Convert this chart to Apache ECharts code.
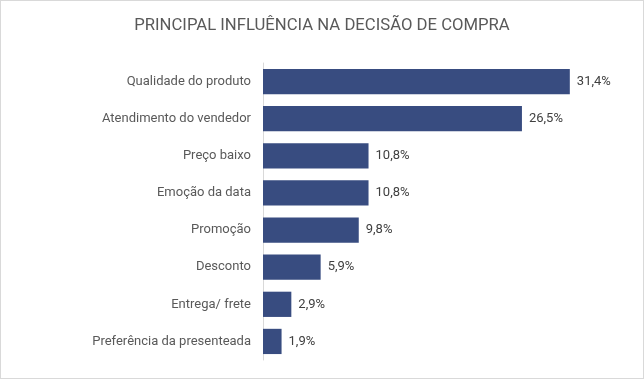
<!DOCTYPE html>
<html><head><meta charset="utf-8">
<script src="https://cdn.jsdelivr.net/npm/echarts@6/dist/echarts.min.js"></script>
<style>html,body{margin:0;padding:0;background:#fff}#c{width:644px;height:379px;box-sizing:border-box;border:1px solid #d9d9d9}</style>
</head><body><div id="c"></div>
<script>
var categories = ["Qualidade do produto","Atendimento do vendedor","Preço baixo","Emoção da data","Promoção","Desconto","Entrega/ frete","Preferência da presenteada"];
var values = [31.4, 26.5, 10.8, 10.8, 9.8, 5.9, 2.9, 1.9];
var title = "PRINCIPAL INFLUÊNCIA NA DECISÃO DE COMPRA";
var chart = echarts.init(document.getElementById('c'));
chart.setOption({
  animation:false,
  title:{text:title,left:'center',top:11,textStyle:{fontFamily:'Roboto',fontWeight:'normal',fontSize:16.7,color:'#595959'}},
  grid:{left:262,right:38,top:62,bottom:18,containLabel:false},
  xAxis:{type:'value',min:0,max:35,show:false},
  yAxis:{type:'category',data:categories,inverse:true,
    axisLine:{show:true,lineStyle:{color:'#d9d9d9'}},axisTick:{show:false},
    axisLabel:{fontFamily:'Roboto',fontSize:13,color:'#595959',margin:12}},
  series:[{type:'bar',data:values,barCategoryGap:'32%',
    itemStyle:{color:'#384c80'},
    label:{show:true,position:'right',distance:7,fontFamily:'Roboto',fontSize:13,color:'#404040',
      formatter:function(p){return p.value.toFixed(1).replace('.',',')+'%';}}}]
});
</script></body></html>
